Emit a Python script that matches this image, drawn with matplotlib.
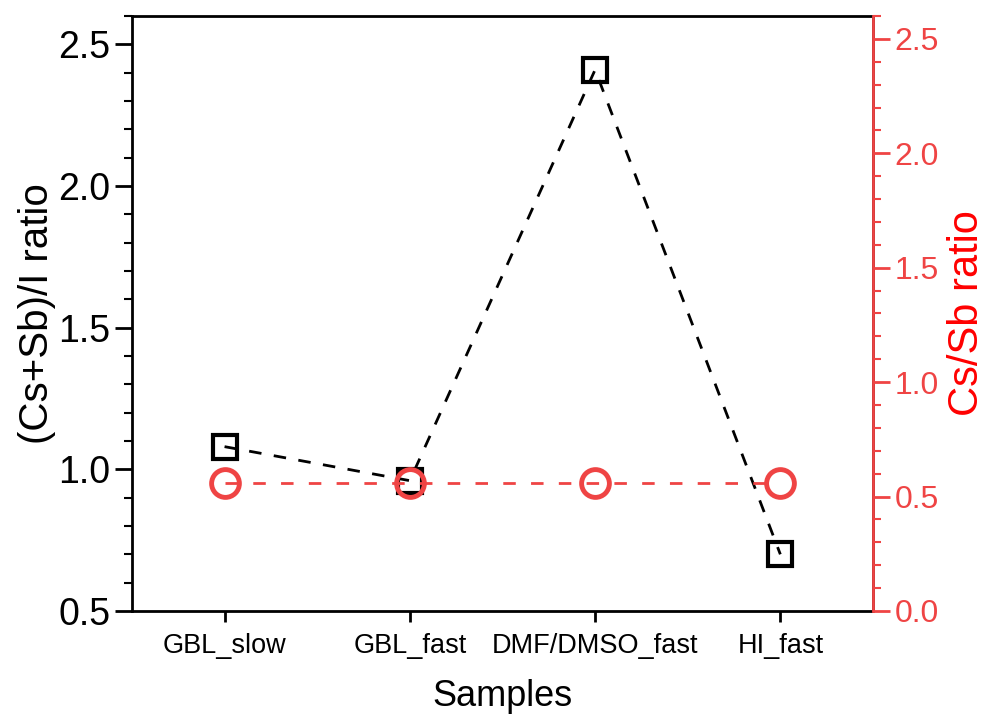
import numpy as np
import matplotlib
matplotlib.use('Agg')
import matplotlib.pyplot as plt
from matplotlib.ticker import MultipleLocator

samples = ['GBL_slow', 'GBL_fast', 'DMF/DMSO_fast', 'HI_fast']
total_ratio = [1.08, 0.96, 2.41, 0.70]   # (Cs+Sb)/I
cs_sb_ratio = [0.56, 0.56, 0.56, 0.56]   # Cs/Sb

plt.rcParams['font.family'] = ['Liberation Sans', 'DejaVu Sans']
red = '#ef4444'

fig = plt.figure(figsize=(9.92, 7.2), dpi=100)
ax = fig.add_axes([0.133, 0.1514, 0.747, 0.8264])
x = np.arange(len(samples))

ax.plot(x, total_ratio, color='black', lw=2, dashes=(4.5, 4.5), marker='s', ms=17,
        mfc='none', mec='black', mew=3, zorder=3)
ax.set_xlim(-0.5, 3.5)
ax.set_ylim(0.5, 2.6)
ax.yaxis.set_major_locator(MultipleLocator(0.5))
ax.yaxis.set_minor_locator(MultipleLocator(0.1))
ax.set_xticks(x)
ax.set_xticklabels(samples, fontsize=19.5)
ax.tick_params(axis='y', which='major', length=12, width=2, labelsize=27)
ax.tick_params(axis='y', which='minor', length=6, width=1.5)
ax.tick_params(axis='x', length=8, width=2, pad=8)
ax.set_ylabel('(Cs+Sb)/I ratio', fontsize=29, labelpad=2)
ax.set_xlabel('Samples', fontsize=26, labelpad=14)
for s in ax.spines.values():
    s.set_linewidth(2)

ax2 = ax.twinx()
ax2.plot(x, cs_sb_ratio, color=red, lw=2, dashes=(4.5, 5.5), marker='o', ms=20,
         mfc='none', mec=red, mew=3.5, zorder=4)
ax2.set_ylim(0, 2.6)
ax2.yaxis.set_major_locator(MultipleLocator(0.5))
ax2.yaxis.set_minor_locator(MultipleLocator(0.1))
ax2.tick_params(axis='y', which='major', length=12, width=2, labelsize=23,
                colors=red)
ax2.tick_params(axis='y', which='minor', length=6, width=1.5, colors=red)
ax2.spines['right'].set_color(red)
ax2.spines['right'].set_linewidth(2)
ax2.spines['left'].set_visible(False)
ax2.spines['top'].set_visible(False)
ax2.spines['bottom'].set_visible(False)
ax2.set_ylabel('Cs/Sb ratio', fontsize=30, color='red', labelpad=6)

fig.savefig('out.png', dpi=100)
